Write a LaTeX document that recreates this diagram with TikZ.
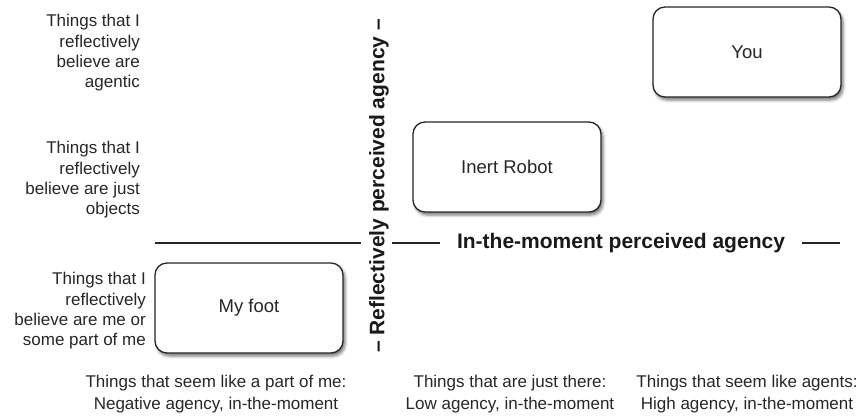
\documentclass[tikz,border=0pt]{standalone}
\usepackage{fontspec}
\setmainfont{Liberation Sans}
\usetikzlibrary{shadows.blur}

\begin{document}
\begin{tikzpicture}[x=1pt,y=-1pt,
  thing/.style={draw=black!85, line width=1.3pt, rounded corners=12pt, fill=white,
    minimum width=188pt, minimum height=90pt, inner sep=0pt,
    font=\fontsize{18.5}{22}\selectfont, text=black!85,
    blur shadow={shadow xshift=2pt, shadow yshift=-3pt, shadow blur radius=3pt, shadow opacity=55}},
  rowlabel/.style={anchor=east, align=right, inner sep=0pt, text=black!85,
    font=\fontsize{17}{20.3}\selectfont},
  collabel/.style={anchor=center, align=center, inner sep=0pt, text=black!85,
    font=\fontsize{17}{22}\selectfont},
  axislabel/.style={inner sep=0pt, text=black!90, font=\fontsize{21}{24}\bfseries},
  axisline/.style={draw=black!85, line width=1.2pt}]

  \useasboundingbox (0,0) rectangle (863,416);

  % the three example boxes
  \node[thing] (you)   at (747,52)  {You};
  \node[thing] (robot) at (507,167) {Inert Robot};
  \node[thing] (foot)  at (249,308) {My foot};

  % reflective categories down the left side
  \node[rowlabel] (agentic) at (140,53)  {Things that I\\reflectively\\believe are\\agentic\ };
  \node[rowlabel] (objects) at (140,180) {Things that I\\reflectively\\believe are just\\objects};
  \node[rowlabel] (self)    at (146,311) {Things that I\\reflectively\\believe are me or\\some part of me};

  % in-the-moment categories along the bottom
  \node[collabel] (partofme) at (216,394) {Things that seem like a part of me:\\Negative agency, in-the-moment};
  \node[collabel] (justthere) at (510,394) {Things that are just there:\\Low agency, in-the-moment};
  \node[collabel] (agents) at (747,394) {Things that seem like agents:\\High agency, in-the-moment};

  % vertical axis: reflective agency
  \node[axislabel, rotate=90] (vaxis) at (379,186) {-- Reflectively perceived agency --};

  % horizontal axis: in-the-moment agency
  \node[axislabel] (haxis) at (621,243) {In-the-moment perceived agency};
  \coordinate (hl1) at (155,243);
  \coordinate (hl2) at (361,243);
  \coordinate (hr1) at (392,243);
  \coordinate (hr2) at (440,243);
  \coordinate (he1) at (802,243);
  \coordinate (he2) at (840,243);
  \draw[axisline] (hl1) -- (hl2);
  \draw[axisline] (hr1) -- (hr2);
  \draw[axisline] (he1) -- (he2);
\end{tikzpicture}
\end{document}
